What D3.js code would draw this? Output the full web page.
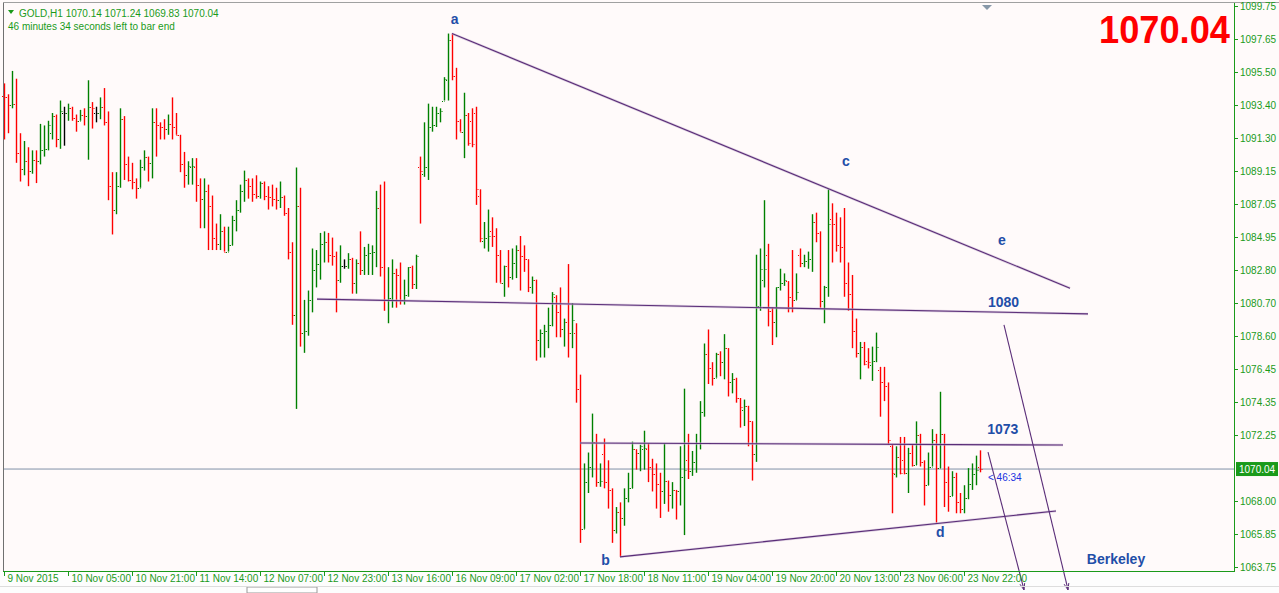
<!DOCTYPE html>
<html>
<head>
<meta charset="utf-8">
<script src="https://cdnjs.cloudflare.com/ajax/libs/d3/7.8.5/d3.min.js"></script>
<style>
body { margin: 0; background: #fffafa; overflow: hidden; }
text { font-family: "Liberation Sans", Arial, sans-serif; }
</style>
</head>
<body>
<div id="chart"></div>
<script>
// hourly bars, [open, high, low, close]
var bars = [
[1094.0,1094.8,1091.2,1093.9],[1093.9,1094.1,1091.6,1093.4],[1093.4,1095.6,1093.2,1093.5],[1093.5,1095.1,1089.7,1090.3],
[1090.3,1091.6,1088.5,1089.3],[1089.3,1091.1,1088.9,1089.8],[1089.8,1090.7,1088.2,1089.2],[1089.2,1090.5,1089.0,1089.9],
[1089.9,1090.5,1088.4,1089.8],[1089.8,1092.2,1089.6,1090.5],[1090.5,1092.1,1090.1,1090.6],[1090.6,1092.4,1090.5,1092.1],
[1091.6,1092.9,1091.2,1092.7],[1092.7,1092.8,1090.7,1091.2],[1091.2,1093.7,1090.6,1093.0],[1092.9,1093.3,1090.8,1092.9],
[1092.9,1093.5,1092.4,1093.2],[1093.2,1093.3,1092.4,1092.6],[1092.6,1092.8,1091.7,1092.4],[1092.4,1093.1,1092.4,1092.8],
[1092.8,1093.2,1092.1,1092.7],[1092.7,1095.0,1089.9,1093.3],[1093.3,1093.6,1091.9,1093.2],[1092.9,1093.3,1092.3,1092.9],
[1092.9,1093.9,1092.5,1093.3],[1093.3,1094.5,1092.1,1092.3],[1092.3,1093.0,1087.3,1088.2],[1088.2,1089.1,1085.1,1086.7],
[1086.7,1089.1,1086.4,1088.2],[1088.2,1093.2,1088.1,1092.5],[1092.5,1092.7,1088.6,1089.6],[1089.6,1090.1,1088.5,1088.6],
[1088.6,1089.7,1088.0,1088.5],[1088.5,1088.7,1087.4,1088.1],[1088.1,1089.9,1088.1,1089.4],[1089.4,1090.5,1089.2,1090.1],
[1090.1,1090.1,1088.5,1089.7],[1089.7,1093.2,1088.7,1092.3],[1092.3,1093.2,1090.1,1092.1],[1092.1,1092.3,1091.2,1092.0],
[1092.0,1092.5,1091.2,1091.9],[1091.9,1092.8,1091.5,1092.2],[1092.2,1093.9,1091.2,1092.0],[1092.0,1092.9,1091.5,1091.5],
[1091.5,1091.5,1089.1,1089.6],[1089.6,1090.4,1088.1,1088.9],[1088.9,1089.8,1088.3,1089.5],[1089.4,1090.0,1088.3,1089.5],
[1089.4,1090.0,1087.2,1088.3],[1088.3,1088.7,1085.5,1087.4],[1087.4,1088.7,1085.5,1087.9],[1087.9,1088.3,1084.1,1086.9],
[1086.9,1087.6,1084.1,1084.9],[1084.9,1085.8,1084.1,1084.5],[1084.5,1086.4,1084.1,1085.3],[1085.3,1085.6,1084.0,1084.0],
[1084.0,1085.6,1084.0,1084.4],[1084.4,1086.3,1084.4,1086.0],[1086.0,1087.3,1085.3,1086.7],[1086.7,1088.3,1086.5,1087.9],
[1087.9,1089.2,1087.2,1088.6],[1088.6,1088.7,1087.4,1088.2],[1088.2,1088.7,1087.2,1087.7],[1087.7,1088.9,1087.4,1087.6],
[1087.6,1088.5,1087.4,1088.4],[1088.4,1088.5,1087.3,1087.6],[1087.6,1088.2,1086.7,1087.5],[1087.5,1088.3,1086.9,1087.4],
[1087.4,1088.1,1086.7,1087.3],[1087.3,1088.5,1086.8,1087.5],[1087.5,1087.6,1086.3,1086.5],[1086.5,1086.8,1083.5,1084.0],
[1084.0,1084.6,1079.3,1079.9],[1079.9,1089.4,1073.9,1086.9],[1086.9,1088.1,1077.9,1078.8],[1078.8,1080.9,1077.5,1078.9],
[1078.9,1081.5,1078.6,1080.9],[1080.9,1084.2,1080.1,1082.8],[1082.8,1084.1,1081.7,1083.2],[1083.2,1085.2,1082.2,1084.5],
[1084.5,1085.3,1083.3,1084.6],[1084.6,1085.2,1083.3,1083.8],[1083.8,1084.9,1083.1,1083.7],[1083.7,1084.0,1080.1,1082.2],
[1082.2,1084.4,1082.0,1083.1],[1083.1,1083.5,1082.9,1083.1],[1083.1,1083.9,1082.9,1083.5],[1083.5,1083.6,1081.3,1082.0],
[1082.0,1083.5,1081.3,1083.3],[1083.3,1085.3,1082.5,1082.8],[1082.8,1084.3,1082.5,1083.8],[1083.8,1084.5,1082.5,1083.9],
[1083.9,1084.4,1082.5,1084.0],[1084.0,1087.9,1083.0,1086.8],[1086.8,1088.3,1082.4,1083.0],[1083.0,1088.5,1080.2,1080.9],
[1080.9,1083.0,1079.4,1081.0],[1081.0,1083.5,1080.4,1082.6],[1082.6,1082.9,1080.4,1082.5],[1082.5,1083.3,1080.6,1080.9],
[1080.9,1082.2,1080.6,1081.2],[1081.2,1083.0,1081.1,1083.0],[1083.0,1083.1,1081.6,1081.9],[1081.9,1083.8,1081.6,1083.7],
[1089.4,1090.1,1085.8,1089.2],[1089.0,1092.3,1088.8,1089.4],[1089.4,1093.5,1088.6,1092.0],[1092.0,1093.3,1091.7,1092.1],
[1092.1,1093.3,1092.0,1092.9],[1092.9,1093.2,1092.3,1093.0],[1093.7,1095.2,1093.7,1095.1],[1095.0,1098.0,1093.7,1097.6],
[1097.6,1098.0,1095.0,1095.3],[1095.3,1095.8,1091.2,1092.4],[1092.4,1092.5,1091.7,1091.7],[1091.7,1094.2,1090.0,1092.8],
[1092.8,1092.9,1090.8,1091.0],[1092.4,1093.2,1090.7,1090.9],[1092.9,1093.3,1087.0,1088.0],[1087.6,1088.0,1084.6,1084.9],
[1084.7,1085.9,1084.2,1084.9],[1084.9,1086.7,1084.0,1085.0],[1085.3,1086.2,1084.3,1085.0],[1085.0,1085.5,1082.0,1083.8],
[1083.8,1084.1,1082.0,1082.0],[1082.0,1083.1,1081.1,1083.1],[1083.1,1084.1,1081.7,1082.4],[1082.4,1084.2,1082.2,1083.3],
[1083.3,1084.4,1082.3,1084.1],[1084.1,1085.0,1081.5,1083.7],[1083.7,1084.4,1082.7,1083.5],[1083.5,1083.5,1081.4,1081.7],
[1081.7,1082.4,1081.3,1082.2],[1082.2,1082.2,1077.0,1078.3],[1078.3,1079.0,1077.2,1078.8],[1078.8,1079.3,1077.2,1078.9],
[1078.9,1080.4,1077.8,1079.3],[1079.3,1081.4,1079.2,1081.3],[1081.1,1081.2,1078.5,1080.1],[1080.1,1081.7,1078.5,1079.0],
[1079.0,1079.7,1077.9,1079.5],[1079.5,1083.2,1077.2,1078.8],[1078.8,1080.7,1077.8,1079.6],[1078.8,1079.4,1074.3,1075.2],
[1075.2,1076.1,1065.3,1066.2],[1066.2,1070.4,1066.2,1069.2],[1069.2,1071.1,1068.5,1070.2],[1070.2,1073.6,1069.5,1071.8],
[1071.8,1072.3,1068.9,1069.2],[1069.2,1070.4,1068.9,1069.3],[1071.0,1072.0,1068.8,1069.2],[1069.2,1070.6,1067.5,1068.7],
[1068.7,1068.8,1065.3,1066.1],[1066.1,1067.6,1065.9,1067.3],[1067.3,1067.9,1064.4,1066.9],[1066.9,1068.8,1066.4,1068.2],
[1068.2,1069.8,1067.9,1068.8],[1068.8,1071.8,1068.8,1071.3],[1071.3,1071.3,1070.0,1071.1],[1071.1,1071.6,1069.9,1071.5],
[1071.3,1072.5,1070.0,1071.4],[1071.3,1071.7,1069.2,1070.2],[1070.2,1070.7,1068.6,1069.7],[1069.7,1070.4,1067.5,1069.1],
[1069.1,1069.8,1066.9,1068.6],[1068.6,1071.7,1067.8,1069.3],[1069.3,1069.3,1067.3,1068.4],[1068.4,1069.2,1067.5,1068.7],
[1068.7,1068.7,1066.8,1068.6],[1068.6,1071.5,1067.7,1069.5],[1069.5,1075.2,1065.8,1070.0],[1070.6,1072.3,1069.4,1069.9],
[1069.9,1071.2,1069.6,1070.5],[1070.5,1072.3,1069.8,1071.7],[1071.7,1074.4,1071.3,1073.7],[1073.7,1078.1,1073.4,1077.4],
[1077.4,1079.0,1075.5,1076.5],[1076.5,1076.9,1075.4,1075.9],[1075.9,1077.5,1075.9,1077.4],[1077.4,1077.6,1076.0,1076.9],
[1076.9,1078.7,1075.8,1077.8],[1077.8,1077.8,1074.7,1075.6],[1075.6,1076.2,1074.9,1075.8],[1075.8,1075.9,1074.3,1074.6],
[1074.6,1074.6,1072.7,1074.0],[1073.8,1074.5,1072.8,1074.1],[1074.1,1074.1,1071.5,1073.1],[1073.1,1073.1,1069.3,1071.0],
[1071.0,1083.8,1070.5,1080.5],[1080.5,1084.2,1080.2,1082.9],[1082.2,1087.3,1081.7,1082.9],[1083.8,1084.5,1079.2,1080.2],
[1080.2,1080.4,1078.0,1079.5],[1079.5,1081.7,1078.5,1081.7],[1081.7,1082.9,1081.5,1082.0],[1082.0,1082.6,1081.8,1082.2],
[1082.1,1082.1,1080.1,1081.1],[1081.1,1084.1,1080.1,1080.9],[1080.9,1082.6,1080.9,1081.4],[1083.8,1084.2,1083.0,1083.3],
[1083.3,1083.8,1083.0,1083.4],[1083.4,1084.0,1082.9,1083.5],[1083.5,1086.4,1082.7,1085.9],[1085.9,1086.5,1084.6,1085.2],
[1085.2,1085.3,1080.4,1080.8],[1080.8,1081.8,1079.4,1081.7],[1081.7,1088.0,1081.1,1085.8],[1086.1,1087.1,1083.3,1085.8],
[1085.8,1086.5,1084.0,1084.4],[1084.4,1086.2,1083.3,1084.3],[1084.3,1086.8,1081.1,1082.0],[1082.0,1083.3,1080.2,1081.3],
[1081.3,1082.5,1077.8,1078.9],[1078.9,1079.7,1077.2,1077.5],[1077.5,1078.2,1075.8,1077.9],[1077.9,1078.2,1076.7,1076.8],
[1077.0,1077.8,1076.5,1076.9],[1076.7,1077.9,1075.7,1077.0],[1077.0,1078.8,1076.9,1077.9],[1076.4,1076.6,1073.4,1075.6],
[1075.6,1076.6,1074.4,1075.4],[1075.4,1075.6,1071.6,1071.9],[1071.5,1071.6,1067.2,1069.8],[1069.7,1071.5,1069.5,1070.8],
[1070.8,1072.1,1069.7,1069.8],[1070.6,1072.1,1069.7,1069.8],[1069.8,1071.4,1068.5,1071.1],[1071.1,1071.6,1070.2,1070.3],
[1070.3,1073.1,1070.3,1072.2],[1072.2,1072.3,1070.2,1070.5],[1070.5,1070.6,1067.7,1069.0],[1069.0,1071.1,1069.0,1070.2],
[1070.2,1072.6,1070.2,1071.9],[1071.9,1072.3,1066.6,1070.1],[1070.1,1075.0,1070.1,1072.3],[1072.3,1072.3,1067.6,1069.2],
[1069.2,1070.2,1067.3,1068.3],[1068.3,1069.9,1068.3,1069.5],[1069.5,1069.8,1067.2,1067.9],[1067.9,1068.5,1067.2,1067.5],
[1067.5,1069.0,1067.2,1068.2],[1068.2,1070.1,1068.1,1069.1],[1069.1,1070.4,1068.7,1069.7],[1069.7,1070.9,1069.0,1070.0],
[1070.14,1071.24,1069.83,1070.04]
];

var priceTicks = [1099.75, 1097.65, 1095.50, 1093.40, 1091.30, 1089.15, 1087.05, 1084.95, 1082.80,
  1080.70, 1078.60, 1076.45, 1074.35, 1072.25, 1068.00, 1065.85, 1063.75];
var timeLabels = ['9 Nov 2015', '10 Nov 05:00', '10 Nov 21:00', '11 Nov 14:00', '12 Nov 07:00', '12 Nov 23:00',
  '13 Nov 16:00', '16 Nov 09:00', '17 Nov 02:00', '17 Nov 18:00', '18 Nov 11:00', '19 Nov 04:00',
  '19 Nov 20:00', '20 Nov 13:00', '23 Nov 06:00', '23 Nov 22:00'];
var lastPrice = 1070.04;

// trend lines as [barIndex, price]
var trendLines = [
  {p: [[113, 1098.0], [267.5, 1081.65]]},
  {p: [[79.25, 1080.95], [272, 1080.0]]},
  {p: [[145, 1071.71], [265.75, 1071.58]]},
  {p: [[155, 1064.4], [264, 1067.35]]}
];
var arrows = [
  [[247, 1071.13], [256, 1062.3]],
  [[251, 1079.3], [267, 1062.3]]
];
var labels = [
  {t: 'a', b: 112.7, p: 1098.6},
  {t: 'c', b: 210.5, p: 1089.5},
  {t: 'e', b: 249.5, p: 1084.4},
  {t: 'b', b: 150.3, p: 1063.9},
  {t: 'd', b: 234, p: 1065.65},
  {t: '1080', b: 247, p: 1080.45},
  {t: '1073', b: 246.8, p: 1072.3},
  {t: 'Berkeley', b: 271.7, p: 1063.95}
];

var W = 1279, H = 593;
var plotR = 1234, plotB = 571;
var svg = d3.select('#chart').append('svg').attr('width', W).attr('height', H);

svg.append('rect').attr('width', W).attr('height', H).attr('fill', '#fffafa');
svg.append('rect').attr('y', 572).attr('width', W).attr('height', 21).attr('fill', '#fdfdfd');

var x = d3.scaleLinear().domain([0, 308]).range([0, 1232]);
var y = d3.scaleLinear().domain([1063.75, 1097.65]).range([567, 39]);

var green = '#008000', red = '#ff0000', axisCol = '#1a9a1a';

// price line
svg.append('line').attr('x1', 3).attr('x2', plotR).attr('y1', y(lastPrice)).attr('y2', y(lastPrice))
  .attr('stroke', '#8090a8').attr('stroke-width', 1);

// bars
var g = svg.append('g');
bars.forEach(function (d, i) {
  var cx = Math.round(x(i + 1)) + 0.5;
  var col = d[3] > d[0] ? green : (d[3] < d[0] ? red : '#000');
  g.append('line').attr('x1', cx).attr('x2', cx).attr('y1', y(d[1])).attr('y2', y(d[2]))
    .attr('stroke', col).attr('stroke-width', 1.4);
  g.append('line').attr('x1', cx - 2.5).attr('x2', cx).attr('y1', Math.round(y(d[0])) + 0.5).attr('y2', Math.round(y(d[0])) + 0.5)
    .attr('stroke', col).attr('stroke-width', 1).attr('stroke-dasharray', '1,1');
  g.append('line').attr('x1', cx).attr('x2', cx + 2.5).attr('y1', Math.round(y(d[3])) + 0.5).attr('y2', Math.round(y(d[3])) + 0.5)
    .attr('stroke', col).attr('stroke-width', 1).attr('stroke-dasharray', '1,1');
});

// trend lines
var line = d3.line().x(function (d) { return x(d[0]); }).y(function (d) { return y(d[1]); });
trendLines.forEach(function (t) {
  svg.append('path').attr('d', line(t.p)).attr('stroke', '#c8b4d0').attr('stroke-width', 2.5).attr('fill', 'none').attr('opacity', 0.6);
  svg.append('path').attr('d', line(t.p)).attr('stroke', '#5a2d78').attr('stroke-width', 1.1).attr('fill', 'none');
});
arrows.forEach(function (a) {
  svg.append('path').attr('d', line(a)).attr('stroke', '#5a2d78').attr('stroke-width', 1.1).attr('fill', 'none');
  var ex = x(a[1][0]), ey = 590, ang = Math.atan2(ey - y(a[0][1]), ex - x(a[0][0]));
  var p1 = [ex - 7 * Math.cos(ang - 0.35), ey - 7 * Math.sin(ang - 0.35)];
  var p2 = [ex - 7 * Math.cos(ang + 0.35), ey - 7 * Math.sin(ang + 0.35)];
  svg.append('path').attr('d', 'M' + p1 + 'L' + ex + ',' + ey + 'L' + p2).attr('stroke', '#5a2d78').attr('fill', 'none');
});

labels.forEach(function (l) {
  svg.append('text').attr('x', x(l.b)).attr('y', y(l.p)).text(l.t)
    .attr('font-weight', 'bold').attr('font-size', 14).attr('fill', '#1f4ea8');
});

// frame
svg.append('line').attr('x1', 3.5).attr('x2', 3.5).attr('y1', 3).attr('y2', plotB).attr('stroke', '#707070');
svg.append('line').attr('x1', 3).attr('x2', W).attr('y1', 2.5).attr('y2', 2.5).attr('stroke', '#a0a0a0');
svg.append('line').attr('x1', 3).attr('x2', plotR).attr('y1', plotB + 0.5).attr('y2', plotB + 0.5).attr('stroke', axisCol);
svg.append('line').attr('x1', plotR + 0.5).attr('x2', plotR + 0.5).attr('y1', 3).attr('y2', plotB + 1).attr('stroke', axisCol);

// right axis
var axisG = svg.append('g');
priceTicks.forEach(function (p) {
  var ty = Math.round(y(p)) + 0.5;
  axisG.append('line').attr('x1', plotR).attr('x2', plotR + 4).attr('y1', ty).attr('y2', ty).attr('stroke', axisCol);
  axisG.append('text').attr('x', 1240).attr('y', ty + 3.5).text(p.toFixed(2))
    .attr('font-size', 10).attr('fill', axisCol);
});
var ly = y(lastPrice);
svg.append('rect').attr('x', 1236).attr('y', ly - 7).attr('width', 42).attr('height', 14).attr('fill', axisCol);
svg.append('text').attr('x', 1239).attr('y', ly + 3.5).text(lastPrice.toFixed(2)).attr('font-size', 10).attr('fill', '#fff');

// time axis
timeLabels.forEach(function (t, k) {
  var tx = Math.round(x(1 + 16 * k)) + 0.5;
  svg.append('line').attr('x1', tx).attr('x2', tx).attr('y1', plotB).attr('y2', plotB + 5).attr('stroke', axisCol);
  svg.append('text').attr('x', tx + 3).attr('y', 582).text(t).attr('font-size', 10).attr('fill', axisCol);
});
svg.append('rect').attr('x', 247).attr('y', 587).attr('width', 70).attr('height', 6).attr('fill', '#fff').attr('stroke', '#999');
svg.append('line').attr('x1', 0).attr('x2', W).attr('y1', 586.5).attr('y2', 586.5).attr('stroke', '#ddd');

// header
svg.append('path').attr('d', 'M8,10L14,10L11,14Z').attr('fill', axisCol);
svg.append('text').attr('x', 19).attr('y', 17).text('GOLD,H1  1070.14 1071.24 1069.83 1070.04')
  .attr('font-size', 10).attr('fill', axisCol);
svg.append('text').attr('x', 8).attr('y', 30).text('46 minutes 34 seconds left to bar end')
  .attr('font-size', 10).attr('fill', axisCol);
svg.append('path').attr('d', 'M982,5L992,5L987,10Z').attr('fill', '#8898a8');

svg.append('text').attr('x', 1099).attr('y', 43).text(lastPrice.toFixed(2))
  .attr('font-weight', 'bold').attr('font-size', 38).attr('fill', '#ff0000')
  .attr('textLength', 131).attr('lengthAdjust', 'spacingAndGlyphs');
svg.append('text').attr('x', 988).attr('y', y(lastPrice) + 12).text('< 46:34')
  .attr('font-size', 10).attr('fill', '#2030e0');
</script>
</body>
</html>
